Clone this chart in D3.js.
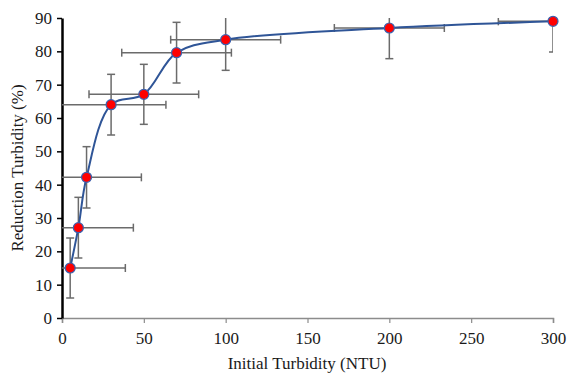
<!DOCTYPE html>
<html>
<head>
<meta charset="utf-8">
<script src="https://cdn.jsdelivr.net/npm/d3@7"></script>
<style>
  body { margin: 0; background: #fff; }
  text { font-family: "Liberation Serif", "Times New Roman", serif; fill: #1a1a1a; }
</style>
</head>
<body>
<script>
// data
const turbidity = [5, 10, 15, 30, 50, 70, 100, 200, 300];
const reduction = [15, 27.1, 42.2, 64, 67.1, 79.6, 83.5, 87, 89];
const xErr = [33.7, 33.6, 33.5, 33.5, 33.5, 33.5, 33.6, 33.6, 33.4];
const yErr = [9, 9.1, 9.2, 9.1, 9, 9.1, 9.2, 9.2, 9.2];
const xTicks = [0, 50, 100, 150, 200, 250, 300];
const yTicks = [0, 10, 20, 30, 40, 50, 60, 70, 80, 90];

const W = 567, H = 374;
const margin = {left: 62, right: 14, top: 18, bottom: 56};
const FS = 17;

const svg = d3.select("body").append("svg")
    .attr("width", W)
    .attr("height", H);

const x = d3.scaleLinear().domain([0, 300]).range([margin.left, W - margin.right]);
const y = d3.scaleLinear().domain([0, 90]).range([H - margin.bottom, margin.top]);

const pts = turbidity.map((t, i) => ({x: t, y: reduction[i], ex: xErr[i], ey: yErr[i]}));

// clip error bars to the plot area
svg.append("clipPath").attr("id", "plot")
    .append("rect")
    .attr("x", x(0))
    .attr("y", y(90))
    .attr("width", x(300) - x(0))
    .attr("height", y(0) - y(90));

// x axis (grey)
const xAxis = svg.append("g")
    .attr("transform", "translate(0," + y(0) + ")")
    .call(d3.axisBottom(x).tickValues(xTicks).tickSize(5).tickPadding(9));
xAxis.select(".domain").attr("stroke", "#8c8c8c").attr("stroke-width", 1.5);
xAxis.selectAll(".tick line").attr("stroke", "#8c8c8c").attr("stroke-width", 1.2);
xAxis.selectAll("text").attr("font-size", FS).style("font-family", "Liberation Serif").attr("fill", "#1a1a1a");

// y axis (black)
const yAxis = svg.append("g")
    .attr("transform", "translate(" + x(0) + ",0)")
    .call(d3.axisLeft(y).tickValues(yTicks).tickSize(5).tickPadding(5).tickSizeOuter(0));
yAxis.select(".domain").attr("stroke", "#000").attr("stroke-width", 2.5);
yAxis.selectAll(".tick line").attr("stroke", "#000").attr("stroke-width", 1.5);
yAxis.selectAll("text").attr("font-size", FS).style("font-family", "Liberation Serif").attr("fill", "#1a1a1a");

// axis titles
svg.append("text")
    .attr("x", 307)
    .attr("y", 369)
    .attr("text-anchor", "middle")
    .attr("font-size", FS)
    .text("Initial Turbidity (NTU)");

svg.append("text")
    .attr("transform", "translate(23," + ((y(0) + y(90)) / 2) + ") rotate(-90)")
    .attr("text-anchor", "middle")
    .attr("font-size", FS)
    .text("Reduction Turbidity (%)");

// error bars
const CAP = 4;
const err = svg.append("g")
    .attr("clip-path", "url(#plot)")
    .attr("stroke", "#6b6b6b")
    .attr("stroke-width", 1.5)
    .attr("fill", "none");

pts.forEach(d => {
    // horizontal
    err.append("line")
        .attr("x1", x(d.x - d.ex)).attr("x2", x(d.x + d.ex))
        .attr("y1", y(d.y)).attr("y2", y(d.y));
    err.append("line")
        .attr("x1", x(d.x - d.ex)).attr("x2", x(d.x - d.ex))
        .attr("y1", y(d.y) - CAP).attr("y2", y(d.y) + CAP);
    err.append("line")
        .attr("x1", x(d.x + d.ex)).attr("x2", x(d.x + d.ex))
        .attr("y1", y(d.y) - CAP).attr("y2", y(d.y) + CAP);
    // vertical
    err.append("line")
        .attr("x1", x(d.x)).attr("x2", x(d.x))
        .attr("y1", y(d.y - d.ey)).attr("y2", y(d.y + d.ey));
    err.append("line")
        .attr("x1", x(d.x) - CAP).attr("x2", x(d.x) + CAP)
        .attr("y1", y(d.y - d.ey)).attr("y2", y(d.y - d.ey));
    err.append("line")
        .attr("x1", x(d.x) - CAP).attr("x2", x(d.x) + CAP)
        .attr("y1", y(d.y + d.ey)).attr("y2", y(d.y + d.ey));
});

// smoothed line
const line = d3.line()
    .x(d => x(d.x))
    .y(d => y(d.y))
    .curve(d3.curveCatmullRom.alpha(0.5));

svg.append("path")
    .datum(pts)
    .attr("d", line)
    .attr("fill", "none")
    .attr("stroke", "#2f5597")
    .attr("stroke-width", 2);

// markers
svg.selectAll("circle.pt")
    .data(pts)
    .enter()
    .append("circle")
    .attr("class", "pt")
    .attr("cx", d => x(d.x))
    .attr("cy", d => y(d.y))
    .attr("r", 5)
    .attr("fill", "#ff0000")
    .attr("stroke", "#3a62b0")
    .attr("stroke-width", 1.2);
</script>
</body>
</html>
